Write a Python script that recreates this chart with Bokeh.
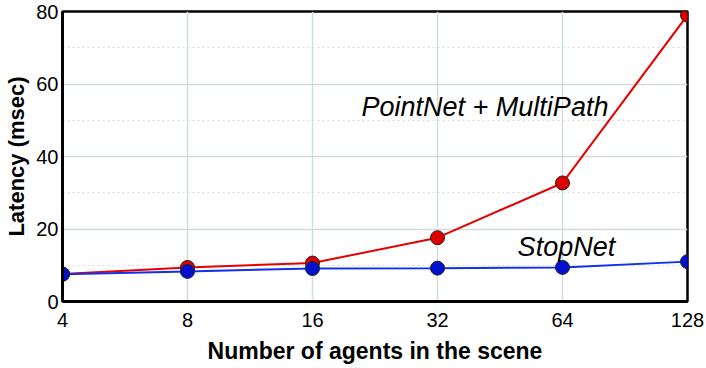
from bokeh.plotting import figure
from bokeh.models import FixedTicker, Label
from bokeh.embed import file_html
from bokeh.resources import INLINE

agents = [4, 8, 16, 32, 64, 128]
pointnet_multipath = [7.6, 9.4, 10.6, 17.6, 32.7, 79.0]
stopnet = [7.5, 8.3, 9.1, 9.2, 9.4, 11.0]
x_ticks = [4, 8, 16, 32, 64, 128]
y_ticks = [0, 20, 40, 60, 80]
y_minor = [10, 30, 50, 70]

FONT = "Liberation Sans"
GRID = "#d3dcdc"

p = figure(width=704, height=366, x_axis_type="log", x_range=(4, 128), y_range=(0, 80),
           output_backend="svg", toolbar_location=None,
           min_border_left=62, min_border_right=17, min_border_top=11, min_border_bottom=64)

p.outline_line_color = "black"
p.outline_line_width = 2.5
p.background_fill_color = "white"

p.xaxis.ticker = FixedTicker(ticks=x_ticks)
p.xaxis.major_label_overrides = {t: str(t) for t in x_ticks}
p.yaxis.ticker = FixedTicker(ticks=y_ticks, minor_ticks=y_minor)
p.xgrid.ticker = FixedTicker(ticks=x_ticks)

for ax in (p.xaxis[0], p.yaxis[0]):
    ax.axis_line_color = "black"
    ax.axis_line_width = 3
    ax.major_tick_line_color = None
    ax.minor_tick_line_color = None
    ax.major_tick_out = 0
    ax.major_tick_in = 0
    ax.minor_tick_out = 0
    ax.minor_tick_in = 0
    ax.major_label_text_font = FONT
    ax.major_label_text_font_size = "20px"
    ax.major_label_text_color = "black"
    ax.axis_label_text_font = FONT
    ax.axis_label_text_font_style = "bold"
    ax.axis_label_text_color = "black"

p.xaxis.axis_label = "Number of agents in the scene"
p.yaxis.axis_label = "Latency (msec)"
p.xaxis.axis_label_text_font_size = "23px"
p.yaxis.axis_label_text_font_size = "22px"
p.xaxis.major_label_standoff = 11
p.xaxis.axis_label_standoff = 8
p.yaxis.major_label_standoff = 4
p.yaxis.axis_label_standoff = 4

p.xgrid.grid_line_color = GRID
p.xgrid.grid_line_width = 1.5
p.ygrid.grid_line_color = GRID
p.ygrid.grid_line_width = 1.5
p.ygrid.minor_grid_line_color = GRID
p.ygrid.minor_grid_line_width = 1.2
p.ygrid.minor_grid_line_dash = "2 3"

p.line(agents, pointnet_multipath, line_color="#e80000", line_width=2)
p.line(agents, stopnet, line_color="#1030ee", line_width=2)
p.scatter(agents, pointnet_multipath, size=14, fill_color="#dd0000", line_color="#222222", line_width=1)
p.scatter(agents, stopnet, size=14, fill_color="#0010cc", line_color="#222222", line_width=1)

p.add_layout(Label(x=21.0, y=53.6, text="PointNet + MultiPath", text_font=FONT,
                   text_font_size="27px", text_font_style="italic", text_color="black",
                   text_baseline="alphabetic"))
p.add_layout(Label(x=49.9, y=14.9, text="StopNet", text_font=FONT,
                   text_font_size="27px", text_font_style="italic", text_color="black",
                   text_baseline="alphabetic"))

open("out.html", "w").write(file_html(p, INLINE))
